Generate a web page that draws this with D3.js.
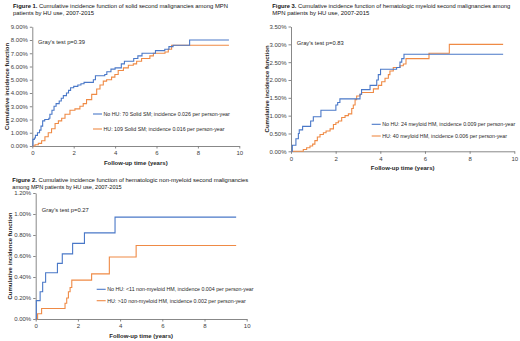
<!DOCTYPE html>
<html><head><meta charset="utf-8">
<script src="https://cdn.jsdelivr.net/npm/d3@7"></script>
<style>body{margin:0;background:#fff}svg{display:block}</style>
</head><body>
<svg id="c" width="520" height="341"></svg>
<script>
// ---------- data ----------
const xTicks = [0, 2, 4, 6, 8, 10];
const fig1YTicks = [0, 1, 2, 3, 4, 5, 6, 7, 8, 9];
const fig3YTicks = [0, 0.5, 1, 1.5, 2, 2.5, 3, 3.5];
const fig2YTicks = [0, 0.2, 0.4, 0.6, 0.8, 1.0, 1.2];

// Figure 1: solid SM (time in years, cumulative incidence in %)
const fig1NoHU = [[0,0],[0.03,0.5],[0.1,0.6],[0.15,0.8],[0.25,1.0],[0.35,1.2],[0.42,1.5],[0.5,1.9],[0.6,2.0],[0.8,2.1],[0.85,2.4],[0.95,2.7],[1.05,3.0],[1.15,3.2],[1.3,3.4],[1.4,3.6],[1.5,3.8],[1.65,4.0],[1.75,4.2],[1.85,4.4],[2.0,4.5],[2.2,4.6],[2.35,4.7],[2.5,4.8],[2.95,5.0],[3.05,5.3],[3.5,5.4],[3.6,5.6],[3.8,5.8],[4.0,5.9],[4.3,6.2],[4.45,6.4],[4.9,6.6],[5.1,6.8],[5.3,7.0],[5.95,7.2],[6.4,7.3],[6.6,7.5],[6.8,7.6],[7.6,8.0],[9.5,8.0]];
const fig1HU = [[0,0],[0.13,0.1],[0.29,0.2],[0.45,0.4],[0.61,0.7],[0.77,1.0],[0.93,1.3],[1.1,1.7],[1.26,1.9],[1.42,2.1],[1.58,2.4],[1.82,2.7],[2.06,2.8],[2.3,3.0],[2.46,3.2],[2.62,3.5],[2.87,3.9],[3.11,4.3],[3.27,4.6],[3.43,4.9],[3.59,5.0],[3.83,5.2],[3.99,5.4],[4.15,5.7],[4.4,5.9],[4.64,6.1],[4.88,6.2],[5.04,6.4],[5.28,6.6],[5.68,6.8],[5.85,7.0],[6.41,7.1],[6.57,7.3],[6.73,7.6],[9.5,7.6]];

// Figure 3: hematologic myeloid SM
const fig3NoHU = [[0,0],[0.06,0.17],[0.22,0.35],[0.33,0.5],[0.37,0.6],[0.52,0.7],[0.88,0.85],[1.0,0.97],[1.34,1.15],[2.01,1.3],[2.09,1.37],[2.19,1.47],[3.09,1.6],[3.16,1.73],[3.54,1.85],[3.84,2.0],[3.91,2.15],[4.01,2.3],[4.73,2.35],[4.88,2.5],[4.96,2.6],[5.06,2.72],[9.5,2.72]];
const fig3HU = [[0,0],[0.55,0.05],[0.7,0.1],[0.85,0.15],[0.97,0.2],[1.07,0.3],[1.18,0.4],[1.3,0.47],[1.45,0.52],[1.57,0.57],[1.75,0.63],[1.9,0.75],[2.01,0.8],[2.12,0.85],[2.27,0.95],[2.42,1.0],[2.57,1.05],[2.72,1.2],[2.79,1.3],[2.87,1.45],[2.94,1.55],[3.09,1.6],[3.16,1.65],[3.69,1.75],[3.91,1.85],[4.06,1.95],[4.21,2.05],[4.36,2.15],[4.43,2.25],[4.58,2.35],[4.88,2.4],[5.03,2.45],[5.15,2.6],[6.18,2.75],[7.09,3.0],[9.5,3.0]];

// Figure 2: hematologic non-myeloid SM
const fig2NoHU = [[0,0],[0.03,0.175],[0.21,0.26],[0.33,0.35],[0.47,0.44],[1.03,0.53],[1.26,0.62],[1.75,0.72],[2.31,0.82],[3.76,0.97],[9.5,0.97]];
const fig2HU = [[0,0],[0.09,0.05],[0.28,0.1],[1.39,0.15],[1.47,0.2],[1.55,0.26],[1.63,0.3],[1.71,0.37],[2.65,0.43],[3.49,0.59],[4.76,0.7],[9.5,0.7]];

const titles = {
  f1: ["Figure 1.", " Cumulative incidence function of solid second malignancies among MPN", "patients by HU use, 2007-2015"],
  f3: ["Figure 3.", " Cumulative incidence function of hematologic myeloid second malignancies among", "MPN patients by HU use, 2007-2015"],
  f2: ["Figure 2.", " Cumulative incidence function of hematologic non-myeloid second malignancies", "among MPN patients by HU use, 2007-2015"]
};
const legends = {
  f1: ["No HU: 70 Solid SM; incidence 0.026 per person-year", "HU: 109 Solid SM; incidence 0.016 per person-year"],
  f3: ["No HU: 24 meyloid HM, incidence 0.009 per person-year", "HU: 40 meyloid HM, incidence 0.006 per person-year"],
  f2: ["No HU: <11 non-myeloid HM, incidence 0.004 per person-year", "HU: >10 non-myeloid HM, incidence 0.002 per person-year"]
};
const grays = {f1: "Gray's test p=0.39", f3: "Gray's test p=0.83", f2: "Gray's test p=0.27"};

// ---------- drawing ----------
const svg = d3.select('#c');
const FONT = "'Liberation Sans', Arial, sans-serif";
const BLUE = '#4a78c8', ORANGE = '#ef8a45';

function panel(o) {
  const g = svg.append('g');
  const x = d3.scaleLinear().domain([0, 10]).range([o.x0, o.x1]);
  const y = d3.scaleLinear().domain([0, o.yTicks[o.yTicks.length - 1]]).range([o.yb, o.yt]);

  // title
  const t = g.append('text').attr('x', o.tx).attr('y', o.ty).attr('font-family', FONT)
    .attr('font-size', 5.6).attr('fill', '#111').attr('textLength', o.tw1).attr('lengthAdjust', 'spacingAndGlyphs');
  t.append('tspan').attr('font-weight', 'bold').text(o.title[0]);
  t.append('tspan').text(o.title[1]);
  g.append('text').attr('x', o.tx).attr('y', o.ty + 7).attr('font-family', FONT)
    .attr('font-size', 5.6).attr('fill', '#111').attr('textLength', o.tw2).attr('lengthAdjust', 'spacingAndGlyphs')
    .text(o.title[2]);

  // axes
  const gx = g.append('g').attr('transform', `translate(0,${o.yb})`)
    .call(d3.axisBottom(x).tickValues(xTicks).tickSize(2.5).tickSizeOuter(0).tickPadding(2.5));
  const gy = g.append('g').attr('transform', `translate(${o.x0},0)`)
    .call(d3.axisLeft(y).tickValues(o.yTicks).tickSize(2.5).tickSizeOuter(0).tickPadding(2)
      .tickFormat(d => d.toFixed(2) + '%'));
  [gx, gy].forEach(a => {
    a.selectAll('path,line').attr('stroke', '#7a7a7a').attr('stroke-width', 0.9);
    a.selectAll('text').attr('font-family', FONT).attr('font-size', 6).attr('fill', '#404040');
  });

  // axis titles
  g.append('text').attr('x', (o.x0 + o.x1) / 2).attr('y', o.yb + 18.5).attr('text-anchor', 'middle')
    .attr('font-family', FONT).attr('font-size', 6).attr('font-weight', 'bold').attr('fill', '#262626')
    .text('Follow-up time (years)');
  g.append('text').attr('transform', `translate(${o.ylx},${(o.yt + o.yb) / 2}) rotate(-90)`)
    .attr('text-anchor', 'middle').attr('font-family', FONT).attr('font-size', 6)
    .attr('font-weight', 'bold').attr('fill', '#262626').text('Cumulative incidence function');

  // curves
  const line = d3.line().x(d => x(d[0])).y(d => y(d[1])).curve(d3.curveStepAfter);
  g.append('path').datum(o.hu).attr('d', line).attr('fill', 'none').attr('stroke', ORANGE).attr('stroke-width', 1.1);
  g.append('path').datum(o.nohu).attr('d', line).attr('fill', 'none').attr('stroke', BLUE).attr('stroke-width', 1.1);

  // Gray's test
  g.append('text').attr('x', o.gx).attr('y', o.gy).attr('font-family', FONT).attr('font-size', 5.8)
    .attr('fill', '#262626').text(o.gray);

  // legend
  [[BLUE, o.legend[0], o.ly1], [ORANGE, o.legend[1], o.ly2]].forEach(([c, txt, ly]) => {
    g.append('line').attr('x1', o.lx).attr('x2', o.lx + 9).attr('y1', ly).attr('y2', ly)
      .attr('stroke', c).attr('stroke-width', 1.1);
    g.append('text').attr('x', o.lx + 10.5).attr('y', ly + 1.9).attr('font-family', FONT)
      .attr('font-size', 5.3).attr('fill', '#262626').text(txt);
  });
}

panel({x0: 32.3, x1: 239.3, yb: 146, yt: 26.75, yTicks: fig1YTicks, nohu: fig1NoHU, hu: fig1HU,
  title: titles.f1, tx: 13, ty: 8, tw1: 215, tw2: 81, ylx: 9, gray: grays.f1, gx: 38, gy: 44.3,
  legend: legends.f1, lx: 93, ly1: 114, ly2: 129});
panel({x0: 291, x1: 514.3, yb: 151.3, yt: 26.5, yTicks: fig3YTicks, nohu: fig3NoHU, hu: fig3HU,
  title: titles.f3, tx: 272.3, ty: 8, tw1: 238, tw2: 97, ylx: 268.5, gray: grays.f3, gx: 296.7, gy: 45.3,
  legend: legends.f3, lx: 371.7, ly1: 124.3, ly2: 136});
panel({x0: 35.7, x1: 246.7, yb: 319, yt: 193, yTicks: fig2YTicks, nohu: fig2NoHU, hu: fig2HU,
  title: titles.f2, tx: 12.3, ty: 181.5, tw1: 236, tw2: 109.4, ylx: 12, gray: grays.f2, gx: 41.7, gy: 212,
  legend: legends.f2, lx: 96.7, ly1: 289.3, ly2: 300.7});
</script>
</body></html>
